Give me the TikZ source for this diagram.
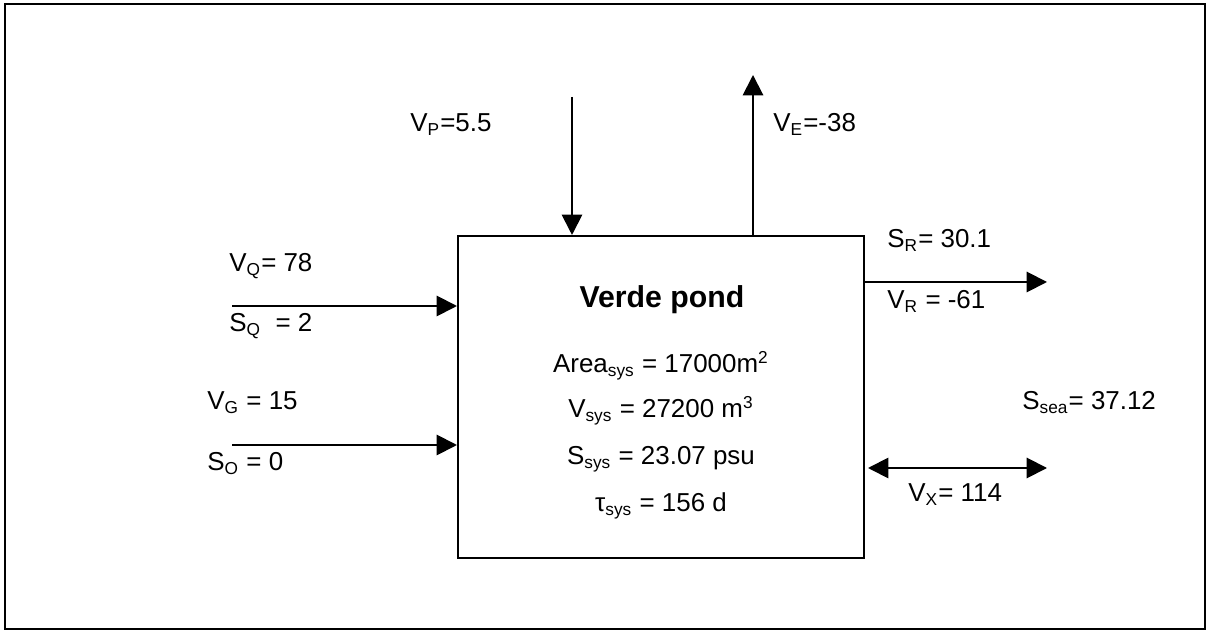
\documentclass[tikz,border=0pt]{standalone}
\usepackage{fontspec}
\setmainfont{Liberation Sans}
\usetikzlibrary{arrows.meta}

\begin{document}
\begin{tikzpicture}[x=0.016269cm, y=-0.016269cm,
    font=\fontsize{12}{14}\selectfont,
    flow/.style={line width=0.9pt, -{Triangle[length=9.4pt, width=9.4pt]}},
    twoway/.style={line width=0.9pt, {Triangle[length=9.4pt, width=9.4pt]}-{Triangle[length=9.4pt, width=9.4pt]}},
    lbl/.style={anchor=base west, inner sep=0pt},
    txt/.style={anchor=base, inner sep=0pt}]

    % 枠
    \useasboundingbox (0,0) rectangle (1206,630);
    \draw [line width=0.9pt] (5,4) rectangle (1205,629);

    % 池の箱
    \node (pond) [draw, line width=0.9pt, minimum width=6.605cm, minimum height=5.239cm,
        inner sep=0pt] at (661,397) {};

    % 端点の定義
    \coordinate (P) at (572,97);
    \coordinate (E) at (753,75);
    \coordinate (Q) at (232,306);
    \coordinate (G) at (232,445);
    \coordinate (R) at (1047,282);
    \coordinate (Xa) at (868,468);
    \coordinate (Xb) at (1047,468);

    % 矢印の描画
    \draw [flow] (P) -- (P |- pond.north);
    \draw [flow] (E |- pond.north) -- (E);
    \draw [flow] (Q) -- (Q -| pond.west);
    \draw [flow] (G) -- (G -| pond.west);
    \draw [flow] (R -| pond.east) -- (R);
    \draw [twoway] (Xa) -- (Xb);

    % 池の中の文字
    \node (name) [txt, font=\fontsize{14}{16}\selectfont\bfseries] at (662,308) {Verde pond};
    \node (area) [txt] at (661,373) {Area\textsubscript{sys} = 17000m\textsuperscript{2}};
    \node (vsys) [txt] at (661,418) {V\textsubscript{sys} = 27200 m\textsuperscript{3}};
    \node (ssys) [txt] at (661,465) {S\textsubscript{sys} = 23.07 psu};
    \node (tsys) [txt] at (661,512) {τ\textsubscript{sys} = 156 d};

    % 流れのラベル
    \node (vp) [lbl] at (410,132) {V\textsubscript{P}=5.5};
    \node (ve) [lbl] at (773,132) {V\textsubscript{E}=-38};
    \node (vq) [lbl] at (229,272) {V\textsubscript{Q}= 78};
    \node (sq) [lbl] at (229,332) {S\textsubscript{Q}\ \ = 2};
    \node (vg) [lbl] at (207,410) {V\textsubscript{G} = 15};
    \node (so) [lbl] at (207,471) {S\textsubscript{O} = 0};
    \node (sr) [lbl] at (887,248) {S\textsubscript{R}= 30.1};
    \node (vr) [lbl] at (887,309) {V\textsubscript{R} = -61};
    \node (ssea) [lbl] at (1022,410) {S\textsubscript{sea}= 37.12};
    \node (vx) [lbl] at (908,502) {V\textsubscript{X}= 114};

\end{tikzpicture}
\end{document}
